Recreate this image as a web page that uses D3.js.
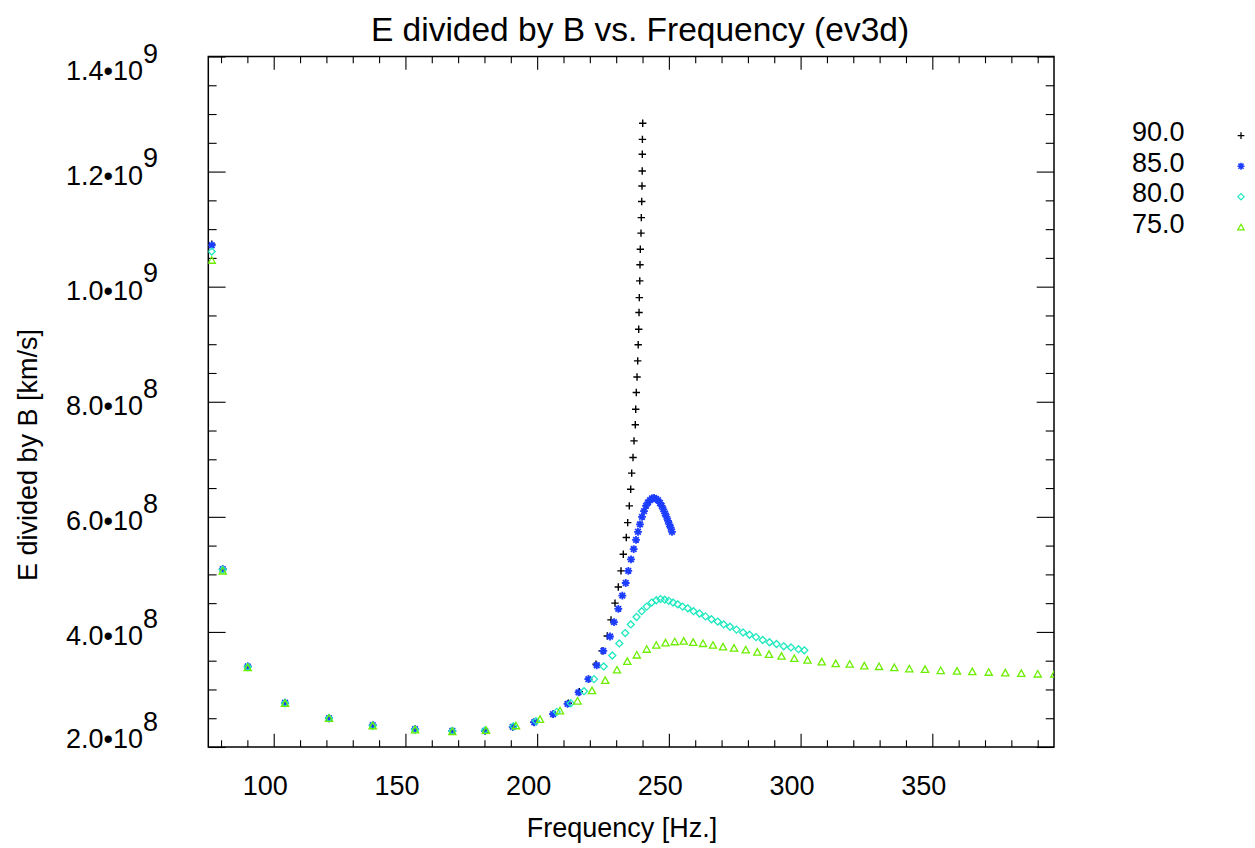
<!DOCTYPE html>
<html>
<head>
<meta charset="utf-8">
<script src="https://cdn.jsdelivr.net/npm/d3@7"></script>
<style>
  body { margin: 0; background: #fff; }
  svg text { font-family: "Liberation Sans", Arial, Helvetica, sans-serif; fill: #000; }
</style>
</head>
<body>
<svg id="chart" width="1255" height="848"></svg>
<script>

// E/B values are in units of 1e8 km/s, frequencies in Hz
const freq90 = [76.47, 80.64, 90.13, 104.29, 120.99, 137.58, 153.64, 167.80, 180.21, 190.72, 198.81, 206.13, 211.83, 216.00, 219.57, 222.34, 224.62, 226.63, 228.04, 229.55, 230.81, 231.83, 232.70, 233.84, 234.37, 234.98, 235.51, 235.89, 236.39, 236.77, 237.26, 237.41, 237.64, 237.91, 238.17, 238.36, 238.55, 238.67, 238.78, 238.95, 239.04, 239.16, 239.42, 239.54, 239.69, 239.80, 239.88, 239.92, 239.96, 240.07]
const eb90 = [10.74, 5.09, 3.40, 2.77, 2.50, 2.38, 2.31, 2.28, 2.28, 2.35, 2.43, 2.57, 2.76, 2.96, 3.18, 3.44, 3.67, 3.93, 4.21, 4.50, 4.78, 5.06, 5.35, 5.64, 5.90, 6.19, 6.48, 6.76, 7.03, 7.32, 7.60, 7.87, 8.16, 8.43, 8.71, 8.99, 9.26, 9.55, 9.81, 10.10, 10.38, 10.65, 10.93, 11.20, 11.48, 11.75, 12.01, 12.30, 12.56, 12.84]

const freq85 = [76.47, 80.64, 90.13, 104.29, 120.99, 137.58, 153.64, 167.80, 180.21, 190.72, 198.92, 206.02, 211.52, 215.70, 219.42, 222.61, 225.11, 227.66, 229.17, 230.81, 232.33, 233.62, 234.60, 235.63, 236.65, 237.53, 238.28, 239.04, 239.80, 240.56, 241.32, 242.08, 242.84, 243.60, 244.36, 245.12, 245.88, 246.63, 247.28, 247.89, 248.53, 249.10, 249.67, 250.17, 250.70, 251.19]
const eb85 = [10.72, 5.09, 3.40, 2.77, 2.50, 2.38, 2.31, 2.28, 2.28, 2.35, 2.43, 2.57, 2.75, 2.95, 3.18, 3.42, 3.67, 3.92, 4.17, 4.40, 4.63, 4.85, 5.06, 5.26, 5.44, 5.60, 5.74, 5.87, 6.00, 6.10, 6.19, 6.25, 6.29, 6.32, 6.33, 6.31, 6.29, 6.24, 6.19, 6.13, 6.06, 6.00, 5.93, 5.87, 5.81, 5.74]

const freq80 = [76.47, 80.64, 90.13, 104.29, 120.99, 137.58, 153.64, 167.80, 180.21, 191.03, 199.57, 207.42, 212.74, 217.79, 221.58, 225.26, 228.53, 231.19, 233.43, 235.55, 237.72, 239.69, 241.59, 243.49, 245.23, 246.83, 248.42, 249.94, 251.57, 253.35, 255.18, 257.15, 259.35, 261.63, 263.91, 266.18, 268.54, 270.82, 273.21, 275.67, 278.14, 280.61, 283.08, 285.62, 288.20, 290.86, 293.59, 296.36, 299.21, 301.41]
const eb80 = [10.61, 5.08, 3.39, 2.76, 2.50, 2.37, 2.30, 2.28, 2.29, 2.36, 2.45, 2.61, 2.76, 2.97, 3.18, 3.40, 3.59, 3.80, 3.98, 4.13, 4.26, 4.36, 4.44, 4.51, 4.55, 4.57, 4.56, 4.54, 4.51, 4.48, 4.44, 4.41, 4.36, 4.32, 4.27, 4.22, 4.18, 4.13, 4.09, 4.04, 3.99, 3.95, 3.91, 3.86, 3.82, 3.79, 3.75, 3.73, 3.70, 3.68]

const freq75 = [76.47, 80.64, 90.13, 104.29, 120.99, 137.58, 153.64, 167.80, 180.59, 191.97, 201.09, 208.68, 215.32, 220.82, 225.83, 230.31, 234.22, 237.83, 241.59, 245.23, 248.72, 252.22, 255.63, 259.24, 262.96, 266.75, 270.55, 274.73, 279.17, 283.57, 288.01, 292.76, 297.61, 302.62, 308.02, 313.33, 318.64, 324.19, 329.77, 335.57, 341.27, 347.23, 353.19, 359.37, 365.18, 371.41, 377.71, 383.78, 390.01, 396.31]
const eb75 = [10.46, 5.06, 3.38, 2.76, 2.50, 2.37, 2.30, 2.27, 2.29, 2.37, 2.48, 2.63, 2.80, 2.98, 3.16, 3.34, 3.49, 3.60, 3.70, 3.77, 3.81, 3.83, 3.84, 3.82, 3.80, 3.77, 3.74, 3.72, 3.69, 3.65, 3.61, 3.58, 3.54, 3.51, 3.48, 3.45, 3.44, 3.41, 3.40, 3.38, 3.36, 3.35, 3.33, 3.32, 3.31, 3.30, 3.29, 3.28, 3.27, 3.27]

const seriesLabels = ['90.0', '85.0', '80.0', '75.0']
const xTickLabels = [100, 150, 200, 250, 300, 350]
const yTickLabels = [2, 4, 6, 8, 10, 12, 14]

const series = [
    { label: seriesLabels[0], freq: freq90, eb: eb90, symbol: 'plus', color: '#000000' },
    { label: seriesLabels[1], freq: freq85, eb: eb85, symbol: 'asterisk', color: '#1c3cff' },
    { label: seriesLabels[2], freq: freq80, eb: eb80, symbol: 'diamond', color: '#1ee8bf' },
    { label: seriesLabels[3], freq: freq75, eb: eb75, symbol: 'triangle', color: '#6cee00' },
]

const plot = { left: 208.3, right: 1054, top: 56.5, bottom: 747 }

const x = d3.scaleLinear()
    .domain([75.17, 396.19])
    .range([plot.left, plot.right])

const y = d3.scaleLinear()
    .domain([2, 14])
    .range([plot.bottom, plot.top])

/**
 * IDL style plot symbols, drawn as outlines round (0,0)
 */
const symbolPath = {
    plus: r => `M${-r},0H${r}M0,${-r}V${r}`,
    asterisk: r => {
        const d = r * 0.72
        return `M${-r},0H${r}M0,${-r}V${r}M${-d},${-d}L${d},${d}M${-d},${d}L${d},${-d}`
    },
    diamond: r => `M0,${-r}L${r},0L0,${r}L${-r},0Z`,
    triangle: r => `M${-r},${r * 0.85}L${r},${r * 0.85}L0,${-r * 0.95}Z`,
}
const symbolSize = { plus: 3.7, asterisk: 3.9, diamond: 3.5, triangle: 3.6 }
const symbolStroke = { plus: 1.4, asterisk: 1.8, diamond: 1.3, triangle: 1.3 }

const svg = d3.select('#chart')

svg.append('defs').append('clipPath')
    .attr('id', 'plot-clip')
    .append('rect')
    .attr('x', plot.left)
    .attr('y', plot.top)
    .attr('width', plot.right - plot.left)
    .attr('height', plot.bottom - plot.top)

/**
 * Tick marks on all four sides, majors longer than minors
 */
const xMajor = xTickLabels
const xMinor = d3.range(80, 400, 10).filter(v => v % 50 !== 0)
const yMajor = yTickLabels
const yMinor = d3.range(2.5, 14, 0.5).filter(v => v % 2 !== 0)

const drawTicks = (axis, values, size, transform) => {
    svg.append('g')
        .attr('transform', transform)
        .call(axis.tickValues(values).tickSize(size).tickFormat(''))
        .call(g => g.select('.domain').remove())
        .call(g => g.selectAll('line').attr('stroke', '#000').attr('stroke-width', 1.1))
}

drawTicks(d3.axisBottom(x), xMajor, -13.3, `translate(0,${plot.bottom})`)
drawTicks(d3.axisBottom(x), xMinor, -6.7, `translate(0,${plot.bottom})`)
drawTicks(d3.axisTop(x), xMajor, -13.3, `translate(0,${plot.top})`)
drawTicks(d3.axisTop(x), xMinor, -6.7, `translate(0,${plot.top})`)
drawTicks(d3.axisLeft(y), yMajor, -17.3, `translate(${plot.left},0)`)
drawTicks(d3.axisLeft(y), yMinor, -8.3, `translate(${plot.left},0)`)
drawTicks(d3.axisRight(y), yMajor, -17.3, `translate(${plot.right},0)`)
drawTicks(d3.axisRight(y), yMinor, -8.3, `translate(${plot.right},0)`)

svg.append('rect')
    .attr('x', plot.left)
    .attr('y', plot.top)
    .attr('width', plot.right - plot.left)
    .attr('height', plot.bottom - plot.top)
    .attr('fill', 'none')
    .attr('stroke', '#000')
    .attr('stroke-width', 1.5)

/**
 * Tick labels
 */
svg.append('g')
    .selectAll('text')
    .data(xTickLabels)
    .join('text')
    .attr('x', d => x(d) - 8.5)
    .attr('y', 795.3)
    .attr('text-anchor', 'middle')
    .attr('font-size', 27)
    .text(d => d)

const yLabels = svg.append('g')
    .selectAll('text')
    .data(yTickLabels)
    .join('text')
    .attr('x', 158)
    .attr('y', d => Math.min(Math.max(y(d) + 13.3, 80), 748))
    .attr('text-anchor', 'end')
    .attr('font-size', 27)

yLabels.append('tspan')
    .text(d => d >= 10 ? `${(d / 10).toFixed(1)}\u202210` : `${d.toFixed(1)}\u202210`)
yLabels.append('tspan')
    .attr('dy', -17.5)
    .text(d => d >= 10 ? '9' : '8')

/**
 * Titles
 */
svg.append('text')
    .attr('x', 640)
    .attr('y', 41)
    .attr('text-anchor', 'middle')
    .attr('font-size', 33.5)
    .text('E divided by B vs. Frequency (ev3d)')

svg.append('text')
    .attr('x', 622)
    .attr('y', 836.5)
    .attr('text-anchor', 'middle')
    .attr('font-size', 27)
    .text('Frequency [Hz.]')

svg.append('text')
    .attr('transform', 'translate(37,455) rotate(-90)')
    .attr('text-anchor', 'middle')
    .attr('font-size', 27)
    .text('E divided by B [km/s]')

/**
 * Data symbols, one group per series
 */
const marks = svg.append('g').attr('clip-path', 'url(#plot-clip)')

series.forEach(s => {
    const pts = s.freq.map((f, i) => ({ f, v: s.eb[i] }))
    marks.append('g')
        .selectAll('path')
        .data(pts)
        .join('path')
        .attr('d', symbolPath[s.symbol](symbolSize[s.symbol]))
        .attr('transform', d => `translate(${x(d.f)},${y(d.v)})`)
        .attr('fill', 'none')
        .attr('stroke', s.color)
        .attr('stroke-width', symbolStroke[s.symbol])
})

/**
 * Legend, labels on the left and a symbol on the right
 */
const legend = svg.append('g')
    .selectAll('g')
    .data(series)
    .join('g')
    .attr('transform', (d, i) => `translate(0,${131.7 + i * 30.5})`)

legend.append('text')
    .attr('x', 1132)
    .attr('y', 9.7)
    .attr('font-size', 27)
    .text(d => d.label)

legend.append('path')
    .attr('d', d => symbolPath[d.symbol](symbolSize[d.symbol] * 0.9))
    .attr('transform', 'translate(1241,4)')
    .attr('fill', 'none')
    .attr('stroke', d => d.color)
    .attr('stroke-width', d => symbolStroke[d.symbol] * 0.9)

</script>
</body>
</html>
